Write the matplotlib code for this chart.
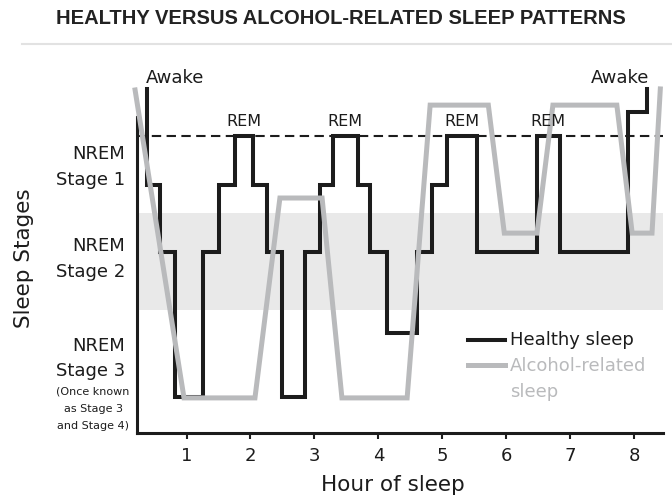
import matplotlib
matplotlib.use("Agg")
import matplotlib.pyplot as plt
from matplotlib.lines import Line2D

# ---------------- data ----------------
hour_ticks = [1, 2, 3, 4, 5, 6, 7, 8]

# Healthy sleep: step changes (hour, depth level held until next change)
healthy_hours = [0.38, 0.38, 0.58, 0.82, 1.26, 1.50, 1.76, 2.04, 2.26, 2.50, 2.85, 3.08,
                 3.29, 3.68, 3.87, 4.13, 4.60, 4.84, 5.07, 5.54, 6.48, 6.84, 7.90, 8.20]
healthy_depth = [10.0, 7.21, 5.26, 1.05, 5.26, 7.21, 8.63, 7.21, 5.26, 1.05, 5.26, 7.21,
                 8.63, 7.21, 5.26, 2.91, 5.26, 7.21, 8.63, 5.26, 8.63, 5.26, 9.33, 10.0]

# Alcohol-related sleep: vertices of the sloped line
alcohol_hours = [0.195, 0.96, 2.07, 2.46, 3.12, 3.43, 4.45, 4.81, 5.72, 5.97,
                 6.48, 6.73, 7.73, 7.97, 8.28, 8.41]
alcohol_depth = [9.97, 1.02, 1.02, 6.83, 6.83, 1.02, 1.02, 9.53, 9.53, 5.81,
                 5.81, 9.53, 9.53, 5.81, 5.81, 10.0]

rem_level = 8.63
stage2_band = (3.58, 6.40)
rem_label_hours = [1.90, 3.48, 5.31, 6.66]

BLACK = "#1c1c1c"
GRAY = "#b9babc"

W, H = 672, 497
fig = plt.figure(figsize=(W / 100, H / 100), dpi=100)

def fx(px):
    return px / W

def fy(py):
    return 1 - py / H

ax = fig.add_axes([fx(137), fy(433), fx(663) - fx(137), fy(80) - fy(433)])
ax.set_xlim(0.225, 8.452)
ax.set_ylim(0, 10.26)

ax.axhspan(stage2_band[0], stage2_band[1], color="#e9e9e9", lw=0, zorder=0)
ax.axhline(rem_level, color=BLACK, lw=1.5, ls=(0, (4.5, 2.6)), zorder=1)

ax.plot(healthy_hours, healthy_depth, drawstyle="steps-post", color=BLACK, lw=2.9,
        solid_joinstyle="miter", zorder=2, clip_on=False)
ax.plot(alcohol_hours, alcohol_depth, color=GRAY, lw=3.6,
        solid_joinstyle="miter", zorder=3, clip_on=False)

for h in rem_label_hours:
    ax.text(h, 9.04, "REM", ha="center", va="center", fontsize=11.5, color=BLACK)
ax.text(0.36, 10.32, "Awake", ha="left", va="center", fontsize=13, color=BLACK, clip_on=False)
ax.text(8.23, 10.32, "Awake", ha="right", va="center", fontsize=13, color=BLACK, clip_on=False)

# spines / ticks
for s in ["top", "right"]:
    ax.spines[s].set_visible(False)
ax.spines["left"].set_linewidth(2.2)
ax.spines["bottom"].set_linewidth(2.2)
ax.spines["left"].set_color(BLACK)
ax.spines["bottom"].set_color(BLACK)
ax.spines["left"].set_bounds(0, 9.19)
ax.set_yticks([])
ax.set_xticks(hour_ticks)
ax.set_xticklabels([str(h) for h in hour_ticks])
ax.tick_params(axis="x", length=4, width=1.5, colors=BLACK, labelsize=13, pad=6)
ax.set_xlabel("Hour of sleep", fontsize=15.5, color=BLACK)
ax.xaxis.set_label_coords((393 - 137) / 526, -(485 - 433) / 353)
ax.xaxis.label.set_va("center")

# legend (manual)
fig.add_artist(Line2D([fx(468), fx(505)], [fy(340), fy(340)], color=BLACK, lw=2.9))
fig.add_artist(Line2D([fx(468), fx(505)], [fy(365), fy(365)], color=GRAY, lw=3.6))
fig.text(fx(510), fy(340), "Healthy sleep", ha="left", va="center", fontsize=13, color=BLACK)
fig.text(fx(510), fy(366), "Alcohol-related", ha="left", va="center", fontsize=13, color=GRAY)
fig.text(fx(510), fy(392), "sleep", ha="left", va="center", fontsize=13, color=GRAY)

# stage labels
right = fx(125)
for py, txt, fs in [(154, "NREM", 13), (180, "Stage 1", 13),
                    (246, "NREM", 13), (272, "Stage 2", 13),
                    (346, "NREM", 13), (371, "Stage 3", 13),
                    (392, "(Once known", 8), (409, "as Stage 3", 8), (426, "and Stage 4)", 8)]:
    if fs == 8:
        fig.text(fx(93), fy(py), txt, ha="center", va="center", fontsize=fs, color=BLACK)
    else:
        fig.text(right, fy(py), txt, ha="right", va="center", fontsize=fs, color=BLACK)

fig.text(fx(24), fy(258), "Sleep Stages", rotation=90, ha="center", va="center",
         fontsize=15.5, color=BLACK)

# title and separator
fig.text(fx(341), fy(18), "HEALTHY VERSUS ALCOHOL-RELATED SLEEP PATTERNS", ha="center",
         va="center", fontsize=14.5, fontweight="bold", color="#222222",
         family=["Liberation Sans", "DejaVu Sans"])
fig.add_artist(Line2D([fx(22), fx(672)], [fy(44), fy(44)], color="#e2e2e2", lw=1.5))

fig.savefig("out.png", dpi=100)
